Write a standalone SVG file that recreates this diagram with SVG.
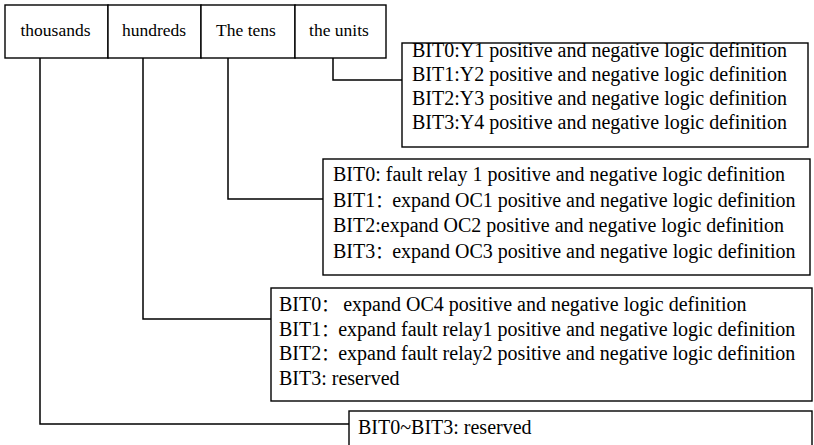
<svg xmlns="http://www.w3.org/2000/svg" width="814" height="445" viewBox="0 0 814 445">
<style>
.box{fill:#fff;stroke:#000;stroke-width:1.4}
.ln{fill:none;stroke:#000;stroke-width:1.5}
.hd{font-family:"Liberation Serif","Noto Sans CJK SC",serif;font-size:17.5px;fill:#000;text-anchor:middle}
.tx{font-family:"Liberation Serif","Noto Sans CJK SC",serif;font-size:20px;fill:#000;white-space:pre}
.fc{font-size:17px}
</style>
<rect width="814" height="445" fill="#fff"/>
<g id="connectors">
<polyline class="ln" points="333,58 333,80 402,80"/>
<polyline class="ln" points="228,58 228,199 323,199"/>
<polyline class="ln" points="143,58 143,319 271,319"/>
<polyline class="ln" points="40,58 40,424 349,424"/>
</g>
<g id="header">
<g id="thousands"><rect class="box" x="5" y="5" width="103" height="53"/><text class="hd" x="55.5" y="36">thousands</text></g>
<g id="hundreds"><rect class="box" x="108" y="5" width="93" height="53"/><text class="hd" x="154" y="36">hundreds</text></g>
<g id="tens"><rect class="box" x="201" y="5" width="94" height="53"/><text class="hd" x="246" y="36">The tens</text></g>
<g id="units"><rect class="box" x="295" y="5" width="91" height="53"/><text class="hd" x="339" y="36">the units</text></g>
</g>
<g id="box-units">
<rect class="box" x="402" y="43" width="406" height="104"/>
<text class="tx" x="412" y="57">BIT0:Y1 positive and negative logic definition</text>
<text class="tx" x="412" y="81">BIT1:Y2 positive and negative logic definition</text>
<text class="tx" x="412" y="105">BIT2:Y3 positive and negative logic definition</text>
<text class="tx" x="412" y="129">BIT3:Y4 positive and negative logic definition</text>
</g>
<g id="box-tens">
<rect class="box" x="323" y="159" width="487" height="116"/>
<text class="tx" x="333" y="181">BIT0: fault relay 1 positive and negative logic definition</text>
<text class="tx" x="333" y="206.5">BIT1<tspan class="fc">：</tspan>expand OC1 positive and negative logic definition</text>
<text class="tx" x="333" y="232">BIT2:expand OC2 positive and negative logic definition</text>
<text class="tx" x="333" y="257.5">BIT3<tspan class="fc">：</tspan>expand OC3 positive and negative logic definition</text>
</g>
<g id="box-hundreds">
<rect class="box" x="271" y="288" width="541" height="113"/>
<text class="tx" x="279" y="311">BIT0<tspan class="fc">：</tspan> expand OC4 positive and negative logic definition</text>
<text class="tx" x="279" y="335.5">BIT1<tspan class="fc">：</tspan>expand fault relay1 positive and negative logic definition</text>
<text class="tx" x="279" y="360">BIT2<tspan class="fc">：</tspan>expand fault relay2 positive and negative logic definition</text>
<text class="tx" x="279" y="384.5">BIT3: reserved</text>
</g>
<g id="box-thousands">
<rect class="box" x="349" y="411" width="463" height="50"/>
<text class="tx" x="358" y="434">BIT0~BIT3: reserved</text>
</g>
</svg>
